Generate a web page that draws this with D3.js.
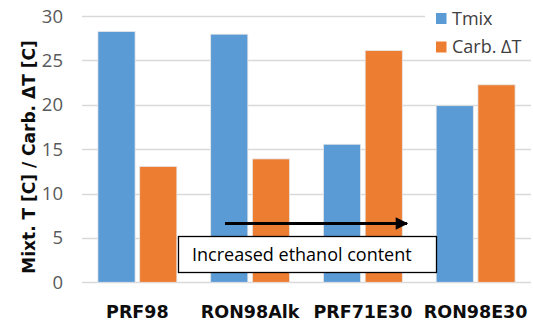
<!DOCTYPE html>
<html>
<head>
<meta charset="utf-8">
<script src="https://cdn.jsdelivr.net/npm/d3@7"></script>
<style>
  body { margin: 0; background: #fff; }
  svg { display: block; }
</style>
</head>
<body>
<div id="chart"></div>
<script>
var fuels = ['PRF98', 'RON98Alk', 'PRF71E30', 'RON98E30'];
var series = ['Tmix', 'Carb. \u0394T'];
var tmix = [28.25, 27.95, 15.55, 19.9];
var carbDT = [13.05, 13.9, 26.1, 22.25];
var yTicks = [0, 5, 10, 15, 20, 25, 30];
var color = ['#5B9BD5', '#ED7D31'];

var width = 533, height = 322;

var svg = d3.select('#chart').append('svg')
  .attr('width', width)
  .attr('height', height);

var x0 = d3.scaleBand()
  .domain(fuels)
  .range([81, 532])
  .paddingInner(0.3)
  .paddingOuter(0.15);

var x1 = d3.scaleBand()
  .domain(series)
  .range([0, x0.bandwidth()])
  .paddingInner(0.11);

var y = d3.scaleLinear()
  .domain([0, 30])
  .range([282.3, 16]);

// gridlines
svg.append('g')
  .selectAll('line')
  .data(yTicks)
  .enter().append('line')
  .attr('x1', 82)
  .attr('x2', 531)
  .attr('y1', function (d) { return Math.round(y(d)) + 0.5; })
  .attr('y2', function (d) { return Math.round(y(d)) + 0.5; })
  .attr('stroke', '#d9d9d9')
  .attr('stroke-width', 1.3);

// y tick labels
svg.append('g')
  .selectAll('text')
  .data(yTicks)
  .enter().append('text')
  .attr('x', 63)
  .attr('y', function (d) { return y(d) + 6.5; })
  .attr('text-anchor', 'end')
  .attr('font-family', '"Open Sans", sans-serif')
  .attr('font-size', 18.5)
  .attr('fill', '#595959')
  .text(function (d) { return d; });

// bars
var rows = fuels.map(function (f, i) {
  return { fuel: f, values: [tmix[i], carbDT[i]] };
});

var grp = svg.append('g')
  .selectAll('g')
  .data(rows)
  .enter().append('g')
  .attr('transform', function (d) { return 'translate(' + x0(d.fuel) + ',0)'; });

grp.selectAll('rect')
  .data(function (d) {
    return d.values.map(function (v, j) { return { key: series[j], value: v, idx: j }; });
  })
  .enter().append('rect')
  .attr('x', function (d) { return x1(d.key); })
  .attr('width', x1.bandwidth())
  .attr('y', function (d) { return y(d.value); })
  .attr('height', function (d) { return y(0) - y(d.value); })
  .attr('fill', function (d) { return color[d.idx]; })
  .attr('stroke', '#e6e6e6')
  .attr('stroke-width', 0.8);

// x labels
svg.append('g')
  .selectAll('text')
  .data(fuels)
  .enter().append('text')
  .attr('x', function (d) { return x0(d) + x0.bandwidth() / 2; })
  .attr('y', 318)
  .attr('text-anchor', 'middle')
  .attr('font-family', '"DejaVu Sans", sans-serif')
  .attr('font-weight', 'bold')
  .attr('font-size', 17.5)
  .attr('fill', '#0d0d0d')
  .text(function (d) { return d; });

// y axis title
svg.append('text')
  .attr('transform', 'translate(35,157) rotate(-90)')
  .attr('text-anchor', 'middle')
  .attr('font-family', '"DejaVu Sans", sans-serif')
  .attr('font-weight', 'bold')
  .attr('font-size', 17)
  .attr('fill', '#0d0d0d')
  .text('Mixt. T [C] / Carb. \u0394T [C]');

// legend
var legend = svg.append('g');
legend.append('rect')
  .attr('x', 425).attr('y', 0)
  .attr('width', 108).attr('height', 58)
  .attr('fill', '#fff');
var li = legend.selectAll('g')
  .data(series)
  .enter().append('g')
  .attr('transform', function (d, i) { return 'translate(436,' + (13 + i * 28.5) + ')'; });
li.append('rect')
  .attr('width', 10.5).attr('height', 11)
  .attr('fill', function (d, i) { return color[i]; });
li.append('text')
  .attr('x', 16)
  .attr('y', 11.5)
  .attr('font-family', '"Open Sans", sans-serif')
  .attr('font-size', 18)
  .attr('fill', '#404040')
  .text(function (d) { return d; });

// annotation arrow
svg.append('defs').append('marker')
  .attr('id', 'head')
  .attr('viewBox', '0 0 10 10')
  .attr('refX', 9).attr('refY', 5)
  .attr('markerWidth', 5).attr('markerHeight', 4.2)
  .attr('markerUnits', 'strokeWidth')
  .attr('orient', 'auto')
  .append('path')
  .attr('d', 'M0,0 L10,5 L0,10 z')
  .attr('fill', '#000');

svg.append('line')
  .attr('x1', 225).attr('x2', 407)
  .attr('y1', 223.5).attr('y2', 223.5)
  .attr('stroke', '#000')
  .attr('stroke-width', 3)
  .attr('marker-end', 'url(#head)');

// annotation box
svg.append('rect')
  .attr('x', 178.5).attr('y', 236.5)
  .attr('width', 258).attr('height', 36)
  .attr('fill', '#fff')
  .attr('stroke', '#000')
  .attr('stroke-width', 1.3);
svg.append('text')
  .attr('x', 192)
  .attr('y', 261)
  .attr('font-family', '"Open Sans", sans-serif')
  .attr('font-size', 18)
  .attr('fill', '#000')
  .text('Increased ethanol content');
</script>
</body>
</html>
